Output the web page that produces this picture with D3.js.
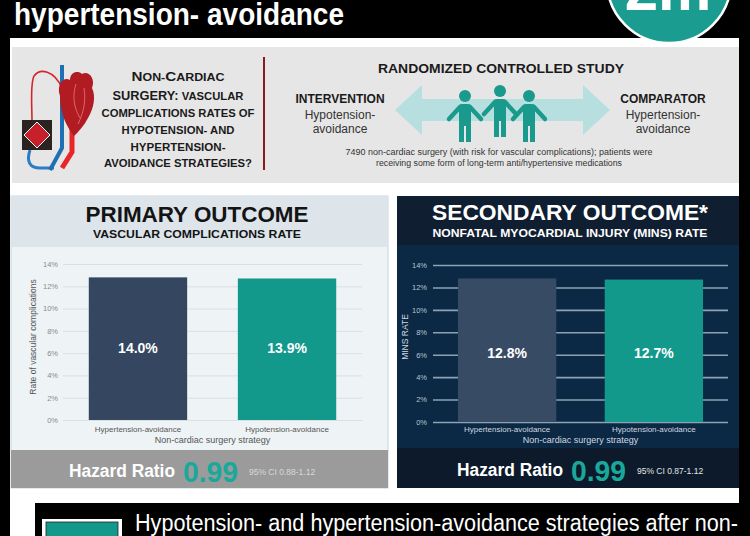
<!DOCTYPE html>
<html>
<head>
<meta charset="utf-8">
<script src="https://cdn.jsdelivr.net/npm/d3@7"></script>
<style>
  body { margin: 0; background: #000; }
  svg { display: block; font-family: "Liberation Sans", Arial, sans-serif; }
</style>
</head>
<body>
<script>
// chart values
const strategies = ["Hypertension-avoidance", "Hypotension-avoidance"];
const primaryBars = [12.8, 12.7];          // drawn bar heights (%)
const primaryLabels = ["14.0%", "13.9%"];
const secondaryBars = [12.8, 12.7];
const secondaryLabels = ["12.8%", "12.7%"];
const rateTicks = [0, 2, 4, 6, 8, 10, 12, 14];
const hazardRatios = ["0.99", "0.99"];
const confIntervals = ["95% CI 0.88-1.12", "95% CI 0.87-1.12"];

const width = 750, height = 536;
const teal = "#12998c", slate = "#354760";

var svg = d3.select("body").append("svg")
  .attr("width", width)
  .attr("height", height);

// page frame
svg.append("rect").attr("width", width).attr("height", height).attr("fill", "#000");
svg.append("rect").attr("x", 10).attr("y", 38).attr("width", 729).attr("height", 498).attr("fill", "#fff");

// header
svg.append("text").attr("x", 14).attr("y", 25)
  .attr("fill", "#fff").attr("font-weight", "bold").attr("font-size", 31)
  .attr("textLength", 330).attr("lengthAdjust", "spacingAndGlyphs")
  .text("hypertension- avoidance");

svg.append("circle").attr("cx", 669).attr("cy", -19).attr("r", 62)
  .attr("fill", "#1a9d90").attr("stroke", "#fff").attr("stroke-width", 2.5);
svg.append("text").attr("x", 668).attr("y", 10).attr("text-anchor", "middle")
  .attr("fill", "#fff").attr("font-weight", "bold").attr("font-size", 60)
  .text("2m");

// study panel
svg.append("rect").attr("x", 12).attr("y", 47).attr("width", 727).attr("height", 136).attr("fill", "#e6e6e6");

// heart illustration
var heart = svg.append("g");
heart.append("path").attr("d", "M62,88 C54,70 40,68 34,76 C30,84 32,104 32,122")
  .attr("fill", "none").attr("stroke", "#d4252b").attr("stroke-width", 1.6);
heart.append("path").attr("d", "M30,150 C26,162 30,168 40,168 L54,168")
  .attr("fill", "none").attr("stroke", "#2a7cc4").attr("stroke-width", 3);
heart.append("path").attr("d", "M62,65 L62,148 L50,170")
  .attr("fill", "none").attr("stroke", "#1f6fb5").attr("stroke-width", 4);
heart.append("path").attr("d", "M72,118 L72,152 L62,168")
  .attr("fill", "none").attr("stroke", "#e8262a").attr("stroke-width", 5);
heart.append("path")
  .attr("d", "M60,96 C56,84 64,76 70,80 C70,72 78,70 82,74 C88,70 96,78 92,88 C96,96 94,108 88,118 C84,126 78,132 74,136 C68,128 60,116 60,96 Z")
  .attr("fill", "#b01c22");
heart.append("path").attr("d", "M76,84 C72,96 74,108 80,118 M84,88 C86,100 84,112 78,124")
  .attr("fill", "none").attr("stroke", "#e27a7a").attr("stroke-width", 0.8);
heart.append("rect").attr("x", 22).attr("y", 120).attr("width", 30).attr("height", 30).attr("fill", "#2b2222");
heart.append("path").attr("d", "M37,122 L50,135 L37,148 L24,135 Z")
  .attr("fill", "#c8202a").attr("stroke", "#fff").attr("stroke-width", 1);

// question text
const qLines = [
  [["N", 13.5], ["ON-", 11], ["C", 13.5], ["ARDIAC", 11]],
  [["SURGERY:", 12.5], [" VASCULAR", 11]],
  [["COMPLICATIONS RATES OF", 11]],
  [["HYPOTENSION- AND", 11.5]],
  [["HYPERTENSION-", 11.5]],
  [["AVOIDANCE STRATEGIES?", 11.5]]
];
const qBase = [81, 100, 117, 134, 151, 167];
const qWidth = [93, 131, 153, 113, 95, 148];
qLines.forEach(function(parts, i) {
  var t = svg.append("text").attr("x", 178).attr("y", qBase[i])
    .attr("text-anchor", "middle").attr("font-weight", "bold").attr("fill", "#1a1a1a")
    .attr("textLength", qWidth[i]).attr("lengthAdjust", "spacingAndGlyphs");
  parts.forEach(function(p) { t.append("tspan").attr("font-size", p[1]).text(p[0]); });
});
svg.append("line").attr("x1", 264).attr("x2", 264).attr("y1", 57).attr("y2", 170)
  .attr("stroke", "#8b1a1a").attr("stroke-width", 2);

svg.append("text").attr("x", 501).attr("y", 73).attr("text-anchor", "middle")
  .attr("font-weight", "bold").attr("font-size", 13).attr("fill", "#1a1a1a")
  .attr("textLength", 246).attr("lengthAdjust", "spacingAndGlyphs")
  .text("RANDOMIZED CONTROLLED STUDY");

// double arrow
svg.append("path")
  .attr("d", "M395,110 L422,85 L422,99 L583,99 L583,85 L610,110 L583,135 L583,121 L422,121 L422,135 Z")
  .attr("fill", "#b8dfe0");

// people
function person(cx, top) {
  var p = svg.append("g").attr("fill", "#1a9a8c");
  p.append("circle").attr("cx", cx).attr("cy", top + 6).attr("r", 6);
  p.append("rect").attr("x", cx - 6).attr("y", top + 14).attr("width", 12).attr("height", 22).attr("rx", 3);
  p.append("rect").attr("x", cx - 6).attr("y", top + 30).attr("width", 5).attr("height", 22);
  p.append("rect").attr("x", cx + 1).attr("y", top + 30).attr("width", 5).attr("height", 22);
  p.append("path").attr("d", `M${cx - 5},${top + 17} L${cx - 16},${top + 29} M${cx + 5},${top + 17} L${cx + 16},${top + 29}`)
    .attr("stroke", "#1a9a8c").attr("stroke-width", 4.5).attr("stroke-linecap", "round");
}
person(465, 90);
person(500, 85);
person(529, 90);

function armLabel(cx, title, l1, l2) {
  svg.append("text").attr("x", cx).attr("y", 103).attr("text-anchor", "middle")
    .attr("font-weight", "bold").attr("font-size", 12).attr("fill", "#1a1a1a").text(title);
  svg.append("text").attr("x", cx).attr("y", 119).attr("text-anchor", "middle")
    .attr("font-size", 12).attr("fill", "#333").text(l1);
  svg.append("text").attr("x", cx).attr("y", 133).attr("text-anchor", "middle")
    .attr("font-size", 12).attr("fill", "#333").text(l2);
}
armLabel(340, "INTERVENTION", "Hypotension-", "avoidance");
armLabel(663, "COMPARATOR", "Hypertension-", "avoidance");

svg.append("text").attr("x", 499).attr("y", 155).attr("text-anchor", "middle")
  .attr("font-size", 8.5).attr("fill", "#333").attr("textLength", 307).attr("lengthAdjust", "spacingAndGlyphs")
  .text("7490 non-cardiac surgery (with risk for vascular complications); patients were");
svg.append("text").attr("x", 499).attr("y", 166).attr("text-anchor", "middle")
  .attr("font-size", 8.5).attr("fill", "#333").attr("textLength", 246).attr("lengthAdjust", "spacingAndGlyphs")
  .text("receiving some form of long-term anti/hypertensive medications");

// outcome panels
function outcomePanel(cfg, bars, labels, idx) {
  var g = svg.append("g");
  g.append("rect").attr("x", cfg.px).attr("y", 196).attr("width", cfg.pw).attr("height", 292)
    .attr("fill", cfg.plotBg).attr("stroke", cfg.border).attr("stroke-width", cfg.border ? 1 : 0);
  g.append("rect").attr("x", cfg.px).attr("y", 196).attr("width", cfg.pw).attr("height", cfg.headH).attr("fill", cfg.headBg);
  g.append("rect").attr("x", cfg.px).attr("y", cfg.hrY).attr("width", cfg.pw).attr("height", 488 - cfg.hrY).attr("fill", cfg.hrBg);

  g.append("text").attr("x", cfg.cx).attr("y", cfg.t1y).attr("text-anchor", "middle")
    .attr("font-weight", "bold").attr("font-size", 22).attr("fill", cfg.titleColor)
    .attr("textLength", cfg.t1w).attr("lengthAdjust", "spacingAndGlyphs").text(cfg.title);
  g.append("text").attr("x", cfg.cx).attr("y", cfg.t2y).attr("text-anchor", "middle")
    .attr("font-weight", "bold").attr("font-size", 11).attr("fill", cfg.titleColor)
    .attr("textLength", cfg.t2w).attr("lengthAdjust", "spacingAndGlyphs").text(cfg.subtitle);

  var x = d3.scaleBand().domain(strategies).range([cfg.x0, cfg.x1])
    .paddingInner(cfg.pi).paddingOuter(cfg.po);
  var y = d3.scaleLinear().domain([0, 14]).range([cfg.y0, cfg.y1]);

  var yAxis = d3.axisLeft(y).tickValues(rateTicks).tickFormat(d => d + "%")
    .tickSize(-(cfg.x1 - cfg.x0)).tickPadding(cfg.pad);
  var ax = g.append("g").attr("transform", "translate(" + cfg.x0 + ",0)").call(yAxis)
    .attr("font-family", "Liberation Sans, Arial, sans-serif").attr("font-size", 7.5);
  ax.select(".domain").remove();
  ax.selectAll(".tick line").attr("stroke", cfg.grid).attr("stroke-width", cfg.gridW);
  ax.selectAll(".tick text").attr("fill", cfg.tickColor);

  g.selectAll(".bar").data(bars).enter().append("rect")
    .attr("x", (d, i) => x(strategies[i]))
    .attr("y", d => y(d))
    .attr("width", x.bandwidth())
    .attr("height", d => y(0) - y(d))
    .attr("fill", (d, i) => i === 0 ? cfg.bar0 : teal);

  g.selectAll(".val").data(labels).enter().append("text")
    .attr("x", (d, i) => x(strategies[i]) + x.bandwidth() / 2)
    .attr("y", cfg.valY).attr("text-anchor", "middle")
    .attr("font-weight", "bold").attr("font-size", 14).attr("fill", "#fff")
    .text(d => d);

  g.selectAll(".cat").data(strategies).enter().append("text")
    .attr("x", d => x(d) + x.bandwidth() / 2)
    .attr("y", 432).attr("text-anchor", "middle")
    .attr("font-size", 8).attr("fill", cfg.labelColor).text(d => d);
  g.append("text").attr("x", (cfg.x0 + cfg.x1) / 2).attr("y", 443).attr("text-anchor", "middle")
    .attr("font-size", 9).attr("fill", cfg.labelColor).text("Non-cardiac surgery strategy");
  g.append("text").attr("transform", "translate(" + cfg.ytx + ",337) rotate(-90)")
    .attr("text-anchor", "middle").attr("font-size", 8.5).attr("fill", cfg.labelColor).text(cfg.yTitle);

  g.append("text").attr("x", cfg.hx).attr("y", cfg.hy).attr("font-weight", "bold").attr("font-size", 17.5)
    .attr("fill", "#fff").attr("textLength", 106).attr("lengthAdjust", "spacingAndGlyphs").text("Hazard Ratio");
  g.append("text").attr("x", cfg.hx + 114).attr("y", cfg.hy + 5).attr("font-weight", "bold").attr("font-size", 29)
    .attr("fill", "#1aa89a").attr("textLength", 55).attr("lengthAdjust", "spacingAndGlyphs").text(hazardRatios[idx]);
  g.append("text").attr("x", cfg.hx + 180).attr("y", cfg.hy - 2).attr("font-size", 8.5)
    .attr("fill", cfg.ciColor).text(confIntervals[idx]);
}

outcomePanel({
  px: 11, pw: 377, headH: 51, hrY: 450,
  plotBg: "#eef3f6", headBg: "#dde5eb", hrBg: "#9b9b9b", border: "#c6d5df",
  cx: 197, title: "PRIMARY OUTCOME", t1y: 222, t1w: 223,
  subtitle: "VASCULAR COMPLICATIONS RATE", t2y: 238, t2w: 208, titleColor: "#141414",
  x0: 63, x1: 362, pi: 0.34, po: 0.173, y0: 420, y1: 264, pad: 5,
  grid: "#d3dade", gridW: 0.8, tickColor: "#8a8a8a", labelColor: "#555",
  bar0: slate, valY: 353, ytx: 36, yTitle: "Rate of vascular complications",
  hx: 69, hy: 477, ciColor: "#d8d8d8"
}, primaryBars, primaryLabels, 0);

outcomePanel({
  px: 397, pw: 342, headH: 49, hrY: 448,
  plotBg: "#0b2844", headBg: "#0f1e30", hrBg: "#0c1a2b", border: null,
  cx: 570, title: "SECONDARY OUTCOME*", t1y: 220, t1w: 276,
  subtitle: "NONFATAL MYOCARDIAL INJURY (MINS) RATE", t2y: 237, t2w: 275, titleColor: "#fff",
  x0: 433, x1: 728, pi: 0.33, po: 0.17, y0: 422, y1: 265, pad: 6,
  grid: "#8fa2b4", gridW: 1.6, tickColor: "#b9c5d0", labelColor: "#d0d8e0",
  bar0: "#384b64", valY: 358, ytx: 408, yTitle: "MINS RATE",
  hx: 457, hy: 476, ciColor: "#e6e6e6"
}, secondaryBars, secondaryLabels, 1);

// bottom banner
svg.append("rect").attr("x", 35).attr("y", 503).attr("width", 715).attr("height", 33).attr("fill", "#000");
svg.append("rect").attr("x", 42).attr("y", 519).attr("width", 80).attr("height", 20).attr("fill", "#fff");
svg.append("rect").attr("x", 46).attr("y", 522).attr("width", 72).attr("height", 20)
  .attr("fill", "#12998c").attr("stroke", "#222").attr("stroke-width", 0.8);
svg.append("text").attr("x", 135).attr("y", 531).attr("font-size", 23).attr("fill", "#fff")
  .attr("textLength", 603).attr("lengthAdjust", "spacingAndGlyphs")
  .text("Hypotension- and hypertension-avoidance strategies after non-");
</script>
</body>
</html>
